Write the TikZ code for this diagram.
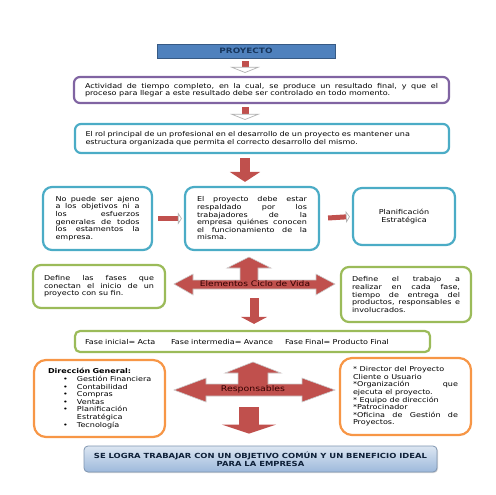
\documentclass[tikz,border=0pt]{standalone}
\usepackage{fontspec}
\setmainfont{DejaVu Sans}[FakeStretch=1.2]
\usepackage{xcolor}
\usetikzlibrary{arrows.meta,calc,shadows}
\definecolor{azul}{HTML}{4F81BD}
\definecolor{marino}{HTML}{17365D}
\definecolor{morado}{HTML}{8064A2}
\definecolor{aqua}{HTML}{4BACC6}
\definecolor{verde}{HTML}{9BBB59}
\definecolor{naranja}{HTML}{F79646}
\definecolor{rojo}{HTML}{C0504D}
\definecolor{celeste}{HTML}{DCE6F2}
\definecolor{celeste2}{HTML}{9DB9DB}
\newcommand{\vineta}[1]{\hspace*{15pt}\makebox[14pt][l]{\textbullet}\mbox{#1}}
\tikzset{
  texto/.style={font=\fontsize{6.7}{7.6}\selectfont},
  caja/.style={draw=#1, line width=2.2pt, rounded corners=6pt, fill=white, inner sep=0pt, texto,
    drop shadow={shadow xshift=0.8pt, shadow yshift=-0.8pt, opacity=0.25}},
  bloque/.style={fill=rojo, draw=gray!40, line width=0.6pt},
  etiqueta/.style={text=black!80!red, font=\fontsize{7.6}{9}\selectfont},
  flecha/.style n args={3}{draw=rojo, line width=#1, -{Triangle[length=#2, width=#3]}},
  flechab/.style n args={3}{draw=rojo, line width=#1,
    -{Triangle[length=#2, width=#3, line width=0.7pt, color=gray!60, fill=white]}}
}
\begin{document}
\begin{tikzpicture}[x=1pt,y=-1pt]
\useasboundingbox (0,0) rectangle (495,495);
\coordinate (eje) at (245,0);
\node[draw=azul!70!black, fill=azul, minimum width=178pt, minimum height=14pt, inner sep=0pt,
  text=marino, font=\fontsize{7.4}{8}\selectfont\bfseries,
  drop shadow={shadow xshift=1.2pt, shadow yshift=-1.2pt, opacity=0.4}] (proy) at (246,51) {PROYECTO};
\node[caja=morado, minimum width=375pt, minimum height=26pt, text width=353pt, align=justify] (act) at (261.5,90)
  {Actividad de tiempo completo, en la cual, se produce un resultado final, y que el\linebreak proceso para llegar a este resultado debe ser controlado en todo momento.};
\node[caja=aqua, minimum width=374pt, minimum height=29pt, text width=353pt, align=left] (rol) at (262,138.5)
  {El rol principal de un profesional en el desarrollo de un proyecto es mantener una\\estructura organizada que permita el correcto desarrollo del mismo.};
\node[caja=aqua, rounded corners=9pt, minimum width=109pt, minimum height=63pt, text width=84pt, align=justify] (nojeno) at (97.5,218.5)
  {No puede ser ajeno\linebreak a los objetivos ni a\linebreak los esfuerzos\linebreak generales de todos\linebreak los estamentos la\linebreak empresa.};
\node[caja=aqua, rounded corners=9pt, minimum width=134pt, minimum height=63pt, text width=110pt, align=justify] (respaldo) at (252,218.5)
  {El proyecto debe estar\linebreak respaldado por los\linebreak trabajadores de la\linebreak empresa quiénes conocen\linebreak el funcionamiento de la\linebreak misma.};
\node[caja=aqua, rounded corners=9pt, minimum width=102pt, minimum height=57pt, align=center] (planif) at (404,216.5)
  {Planificación\\Estratégica};
\node[caja=verde, rounded corners=8pt, minimum width=132pt, minimum height=43pt, text width=110pt, align=justify] (fases) at (99,286.5)
  {Define las fases que\linebreak conectan el inicio de un\linebreak proyecto con su fin.};
\node[caja=verde, rounded corners=8pt, minimum width=130pt, minimum height=55pt, text width=108pt, align=justify] (trabajo) at (406,294.5)
  {Define el trabajo a\linebreak realizar en cada fase,\linebreak tiempo de entrega del\linebreak productos, responsables e\linebreak involucrados.};
\node[caja=verde, rounded corners=5pt, minimum width=355pt, minimum height=21pt, text width=335pt, align=left] (fase) at (252.5,341.5)
  {\makebox[86pt][l]{Fase inicial= Acta}\makebox[114pt][l]{Fase intermedia= Avance}Fase Final= Producto Final};
\node[caja=naranja, rounded corners=12pt, minimum width=131pt, minimum height=77pt, text width=103pt, align=left] (direccion) at (99.5,398.5)
  {\textbf{Dirección General:}\\
   \vineta{Gestión Financiera}\\
   \vineta{Contabilidad}\\
   \vineta{Compras}\\
   \vineta{Ventas}\\
   \vineta{Planificación}\\
   \hspace*{29pt}Estratégica\\
   \vineta{Tecnología}};
\node[caja=naranja, rounded corners=12pt, minimum width=131pt, minimum height=77pt, text width=105pt, align=justify] (miembros) at (405.5,396.5)
  {* Director del Proyecto\\Cliente o Usuario\\{}*Organización que\linebreak ejecuta el proyecto.\\{}* Equipo de dirección\\{}*Patrocinador\\{}*Oficina de Gestión de\linebreak Proyectos.};
\node[draw=celeste2!80!black, line width=0.8pt, rounded corners=4pt, top color=celeste, bottom color=celeste2,
  minimum width=353pt, minimum height=26pt, inner sep=0pt, align=center, text=marino!60!black,
  font=\fontsize{7}{8}\selectfont\bfseries,
  drop shadow={shadow xshift=1pt, shadow yshift=-1pt, opacity=0.3}] (final) at (260.5,459)
  {SE LOGRA TRABAJAR CON UN OBJETIVO COMÚN Y UN BENEFICIO IDEAL\\PARA LA EMPRESA};
\draw[flechab={7pt}{6pt}{30pt}, shorten <=3pt, shorten >=3pt] (eje |- proy.south) -- (eje |- act.north);
\draw[flechab={7pt}{6pt}{30pt}, shorten <=3pt, shorten >=3pt] (eje |- act.south) -- (eje |- rol.north);
\draw[flecha={10pt}{10pt}{30pt}, shorten <=4pt, shorten >=4pt] (eje |- rol.south) -- (eje |- respaldo.north);
\draw[flechab={5pt}{4pt}{12pt}, shorten <=5pt, shorten >=2pt] (nojeno.east) -- (respaldo.west);
\draw[flechab={5pt}{4pt}{12pt}, shorten <=8pt, shorten >=2pt] (respaldo.east) -- (planif.west);
\draw[bloque] (174,284) -- (193,274) -- (193,280) -- (240,280) -- (240,268) -- (227,268) -- (249,257)
  -- (271,268) -- (258,268) -- (258,280) -- (316,280) -- (316,274) -- (335,284) -- (316,295)
  -- (316,289) -- (193,289) -- (193,295) -- cycle;
\node[etiqueta] (ciclo) at (255,284) {Elementos Ciclo de Vida};
\coordinate (c1) at (254,298);
\draw[flecha={9pt}{7pt}{26pt}, shorten >=6pt] (c1) -- (c1 |- fase.north);
\draw[bloque] (174,390) -- (206,378) -- (206,384) -- (238,384) -- (238,373) -- (225,373) -- (253,362)
  -- (281,373) -- (268,373) -- (268,384) -- (302,384) -- (302,378) -- (335,390) -- (302,402)
  -- (302,396) -- (206,396) -- (206,402) -- cycle;
\node[etiqueta, font=\fontsize{7.8}{10}\selectfont] (resp) at (253,389) {Responsables};
\coordinate (c2) at (249,407);
\draw[flecha={20pt}{9pt}{54pt}, shorten >=12pt] (c2) -- (c2 |- final.north);
\end{tikzpicture}
\end{document}
